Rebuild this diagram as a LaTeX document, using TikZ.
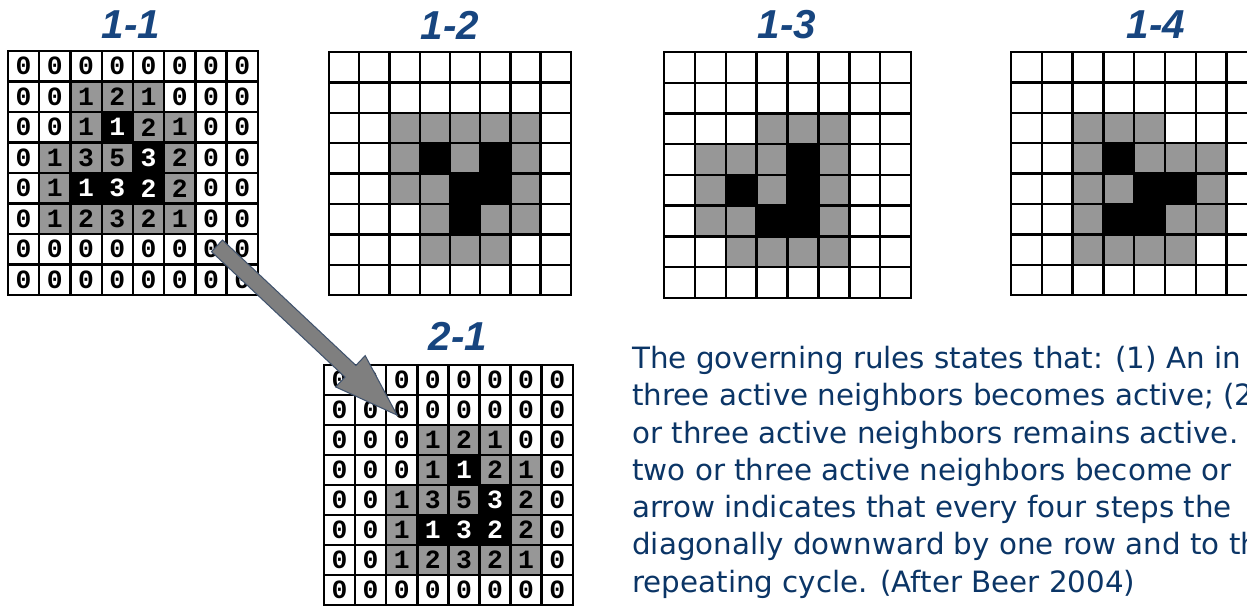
\documentclass[tikz,border=0pt]{standalone}
\usepackage{fontspec}
\setmainfont{DejaVu Sans}
\newfontfamily\titlefont{Liberation Sans}
\newfontfamily\numfont{Liberation Mono}
\newfontfamily\rulesfont{DejaVu Sans}
\usetikzlibrary{calc}
\definecolor{cellGrey}{HTML}{979797}
\definecolor{titleBlue}{HTML}{17457F}
\definecolor{textNavy}{HTML}{0B3566}
\definecolor{arrowFill}{HTML}{7F7F7F}
\definecolor{arrowLine}{HTML}{41536D}
\tikzset{
  gridline/.style={line width=1.4pt, draw=black, line cap=rect},
  greycell/.style={fill=cellGrey},
  blackcell/.style={fill=black},
  gridtitle/.style={font=\titlefont\bfseries\itshape\fontsize{23}{23}\selectfont, text=titleBlue, inner sep=0pt},
  cellnum/.style={font=\numfont\bfseries\fontsize{15}{15}\selectfont, inner sep=0pt},
  rulestext/.style={font=\rulesfont\fontsize{16.7}{21.2}\selectfont, text=textNavy, align=left, anchor=base west, inner sep=0pt},
  shiftarrow/.style={fill=arrowFill, draw=arrowLine, line width=0.6pt, line join=miter},
}
% cell codes: 0 empty, 1 grey, 2 black
\newcommand{\cellfills}[1]{%
  \foreach \rowcells [count=\ry from 0] in {#1} {
    \foreach \v [count=\cx from 0] in \rowcells {
      \ifnum\v=1 \fill[greycell] (\cx,\ry) rectangle ++(1,1); \fi
      \ifnum\v=2 \fill[blackcell] (\cx,\ry) rectangle ++(1,1); \fi
    }
  }
}
% cells with neighbour counts: code/count
\newcommand{\numcells}[1]{%
  \foreach \rowcells [count=\ry from 0] in {#1} {
    \foreach \v/\n [count=\cx from 0] in \rowcells {
      \ifnum\v=1 \fill[greycell] (\cx,\ry) rectangle ++(1,1); \fi
      \ifnum\v=2
        \fill[blackcell] (\cx,\ry) rectangle ++(1,1);
        \node[cellnum, text=white] at (\cx+0.5,\ry+0.5) {\n};
      \else
        \node[cellnum] at (\cx+0.5,\ry+0.5) {\n};
      \fi
    }
  }
}
\newcommand{\gridlines}{%
  \foreach \i in {0,...,8} {
    \draw[gridline] (\i,0) -- (\i,8);
    \draw[gridline] (0,\i) -- (8,\i);
  }
}

\begin{document}
\begin{tikzpicture}[x=0.02cm,y=-0.02cm]
  \useasboundingbox (0,0) rectangle (1247,606);
  \clip (0,0) rectangle (1247,606);

  % titles
  \node[gridtitle] (t11) at (131,25) {1-1};
  \node[gridtitle] (t12) at (450,25) {1-2};
  \node[gridtitle] (t13) at (787,25) {1-3};
  \node[gridtitle] (t14) at (1156,25) {1-4};
  \node[gridtitle] (t21) at (458,336) {2-1};

  % step 1-1 with counts
  \begin{scope}[shift={(8,51)}, x=0.625cm, y=-0.61cm]
    \numcells{{0/0,0/0,0/0,0/0,0/0,0/0,0/0,0/0},
              {0/0,0/0,1/1,1/2,1/1,0/0,0/0,0/0},
              {0/0,0/0,1/1,2/1,1/2,1/1,0/0,0/0},
              {0/0,1/1,1/3,1/5,2/3,1/2,0/0,0/0},
              {0/0,1/1,2/1,2/3,2/2,1/2,0/0,0/0},
              {0/0,1/1,1/2,1/3,1/2,1/1,0/0,0/0},
              {0/0,0/0,0/0,0/0,0/0,0/0,0/0,0/0},
              {0/0,0/0,0/0,0/0,0/0,0/0,0/0,0/0}}
    \gridlines
    \coordinate (tail) at (6.69,6.39);
  \end{scope}

  % step 1-2
  \begin{scope}[shift={(329,52)}, x=0.605cm, y=-0.608cm]
    \cellfills{{0,0,0,0,0,0,0,0},{0,0,0,0,0,0,0,0},
               {0,0,1,1,1,1,1,0},{0,0,1,2,1,2,1,0},
               {0,0,1,1,2,2,1,0},{0,0,0,1,2,1,1,0},
               {0,0,0,1,1,1,0,0},{0,0,0,0,0,0,0,0}}
    \gridlines
  \end{scope}

  % step 1-3
  \begin{scope}[shift={(664,52)}, x=0.618cm, y=-0.615cm]
    \cellfills{{0,0,0,0,0,0,0,0},{0,0,0,0,0,0,0,0},
               {0,0,0,1,1,1,0,0},{0,1,1,1,2,1,0,0},
               {0,1,2,1,2,1,0,0},{0,1,1,2,2,1,0,0},
               {0,0,1,1,1,1,0,0},{0,0,0,0,0,0,0,0}}
    \gridlines
  \end{scope}

  % step 1-4
  \begin{scope}[shift={(1011,52)}, x=0.616cm, y=-0.608cm]
    \cellfills{{0,0,0,0,0,0,0,0},{0,0,0,0,0,0,0,0},
               {0,0,1,1,1,0,0,0},{0,0,1,2,1,1,1,0},
               {0,0,1,1,2,2,1,0},{0,0,1,2,2,1,1,0},
               {0,0,1,1,1,1,0,0},{0,0,0,0,0,0,0,0}}
    \gridlines
  \end{scope}

  % step 2-1, shifted one row down and one column right
  \begin{scope}[shift={(324,365)}, x=0.622cm, y=-0.6cm]
    \numcells{{0/0,0/0,0/0,0/0,0/0,0/0,0/0,0/0},
              {0/0,0/0,0/0,0/0,0/0,0/0,0/0,0/0},
              {0/0,0/0,0/0,1/1,1/2,1/1,0/0,0/0},
              {0/0,0/0,0/0,1/1,2/1,1/2,1/1,0/0},
              {0/0,0/0,1/1,1/3,1/5,2/3,1/2,0/0},
              {0/0,0/0,1/1,2/1,2/3,2/2,1/2,0/0},
              {0/0,0/0,1/1,1/2,1/3,1/2,1/1,0/0},
              {0/0,0/0,0/0,0/0,0/0,0/0,0/0,0/0}}
    \gridlines
    \coordinate (tip) at (2.35,1.67);
  \end{scope}

  % block arrow 1-1 -> 2-1
  \coordinate (neck) at ($(tip)!1.28cm!(tail)$);
  \draw[shiftarrow]
    ($(tail)!0.16cm!90:(tip)$) -- ($(neck)!0.16cm!-90:(tail)$)
    -- ($(neck)!0.43cm!-90:(tail)$) -- (tip)
    -- ($(neck)!0.43cm!90:(tail)$) -- ($(neck)!0.16cm!90:(tail)$)
    -- ($(tail)!0.16cm!-90:(tip)$) -- cycle;

  % base anchor sits on the last line
  \node[rulestext] (rules) at (632,592) {The governing rules states that: (1) An in\\
    three active neighbors becomes active; (2\\
    or three active neighbors remains active.\\
    two or three active neighbors become or\\
    arrow indicates that every four steps the\\
    diagonally downward by one row and to th\\
    repeating cycle. (After Beer 2004)};
\end{tikzpicture}
\end{document}
